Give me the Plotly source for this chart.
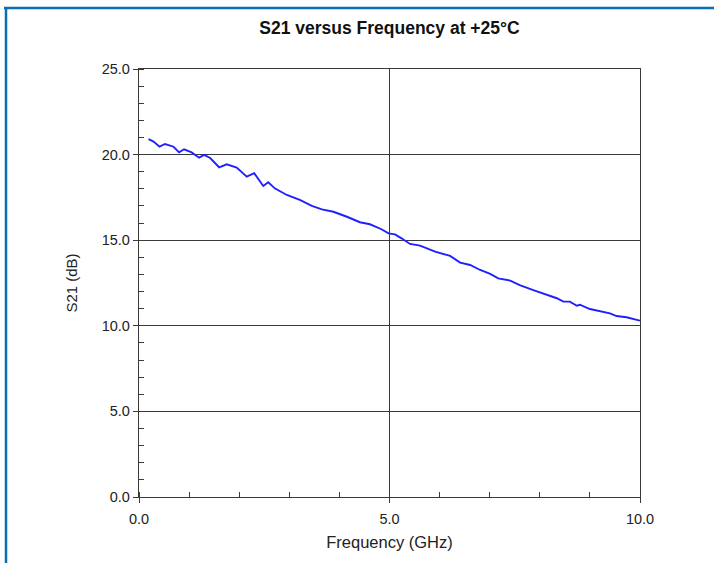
import plotly.graph_objects as go

freq_ghz = [0.19, 0.29, 0.41, 0.52, 0.69, 0.80, 0.90, 1.05, 1.20, 1.30, 1.42, 1.60, 1.75, 1.95,
            2.15, 2.30, 2.48, 2.58, 2.71, 2.95, 3.21, 3.45, 3.65, 3.80, 3.88, 4.15, 4.41, 4.61,
            4.84, 4.98, 5.11, 5.24, 5.41, 5.61, 5.91, 6.21, 6.41, 6.61, 6.81, 7.01, 7.17, 7.41,
            7.60, 7.87, 8.14, 8.34, 8.47, 8.60, 8.74, 8.80, 9.00, 9.27, 9.40, 9.53, 9.73, 10.0]
s21_db = [20.90, 20.76, 20.46, 20.62, 20.46, 20.13, 20.31, 20.13, 19.82, 19.98, 19.80, 19.26,
          19.43, 19.24, 18.71, 18.91, 18.17, 18.38, 18.03, 17.64, 17.35, 17.00, 16.80, 16.69,
          16.66, 16.37, 16.05, 15.93, 15.64, 15.40, 15.34, 15.11, 14.78, 14.68, 14.33, 14.08,
          13.69, 13.55, 13.26, 13.03, 12.77, 12.64, 12.38, 12.09, 11.80, 11.61, 11.41, 11.41,
          11.17, 11.23, 10.98, 10.79, 10.73, 10.57, 10.50, 10.30]

x_ticks = [0, 5, 10]
x_tick_labels = ["0.0", "5.0", "10.0"]
y_ticks = [0, 5, 10, 15, 20, 25]
y_tick_labels = ["0.0", "5.0", "10.0", "15.0", "20.0", "25.0"]

W, H = 714, 563
L, R, T, B = 139, 74, 69, 66
pw, ph = W - L - R, H - T - B

FAM = "Liberation Sans, Arial, sans-serif"
TXT = "#222222"

fig = go.Figure()
fig.add_trace(go.Scatter(x=freq_ghz, y=s21_db, mode="lines",
                         line=dict(color="#2020ff", width=1.9), showlegend=False))

axis_common = dict(showline=True, linecolor="#3a3a3a", linewidth=1.4, mirror=True,
                   showgrid=True, gridcolor="#3a3a3a", gridwidth=1.4, zeroline=False,
                   ticks="outside", ticklen=5, tickcolor="#3a3a3a", tickwidth=1.3,
                   tickfont=dict(family=FAM, size=14.5, color=TXT),
                   minor=dict(dtick=1, ticks="inside", ticklen=5, tickcolor="#3a3a3a",
                              tickwidth=1.3, showgrid=False))

fig.update_xaxes(range=[0, 10], tickvals=x_ticks, ticktext=x_tick_labels,
                 ticklabelstandoff=3,
                 title=dict(text="Frequency (GHz)", standoff=10,
                            font=dict(family=FAM, size=16.5, color=TXT)),
                 **axis_common)
fig.update_yaxes(range=[0, 25], tickvals=y_ticks, ticktext=y_tick_labels,
                 title=dict(text="S21 (dB)", standoff=20,
                            font=dict(family=FAM, size=15, color=TXT)),
                 **axis_common)

def px(x):
    return (x - L) / pw

def py(y):
    return 1 - (y - T) / ph

fig.update_layout(
    width=W, height=H, autosize=False,
    margin=dict(l=L, r=R, t=T, b=B),
    paper_bgcolor="white", plot_bgcolor="white",
    title=dict(text="<b>S21 versus Frequency at +25°C</b>", x=(L + pw / 2) / W, xanchor="center",
               y=1 - 28 / H, yanchor="middle",
               font=dict(family=FAM, size=17.5, color="#111111")),
    shapes=[
        dict(type="line", xref="paper", yref="paper", x0=px(4), x1=px(714), y0=py(8), y1=py(8),
             line=dict(color="#0a6eb4", width=2.5)),
        dict(type="line", xref="paper", yref="paper", x0=px(6), x1=px(6), y0=py(8), y1=py(570),
             line=dict(color="#0a6eb4", width=2.5)),
    ],
)

fig.write_html("out.html", config={"displayModeBar": False},
               post_script="document.body.style.margin='0px';")
